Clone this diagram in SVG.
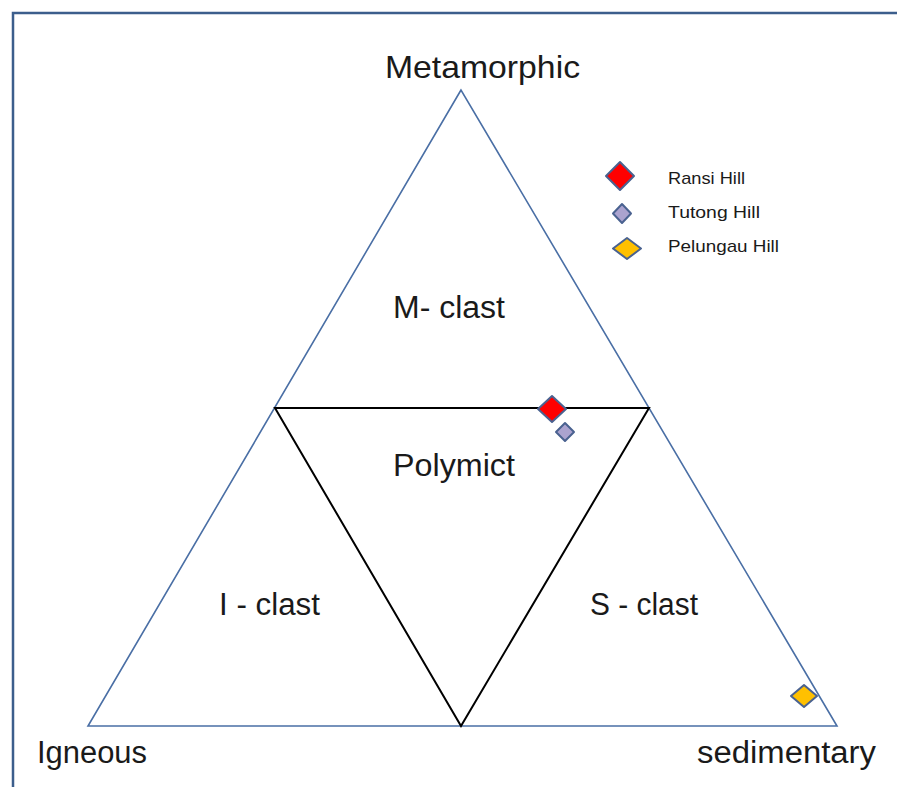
<svg xmlns="http://www.w3.org/2000/svg" width="897" height="787" viewBox="0 0 897 787">
<style>
.lbl{font-family:"Liberation Sans",Arial,sans-serif;fill:#1a1a1a}
.big{font-size:31px}
.leg{font-size:17px}
.outer{fill:none;stroke:#4A6FA5;stroke-width:1.6}
.inner{fill:none;stroke:#000;stroke-width:2}
.mk{stroke:#4A6290;stroke-width:2;stroke-linejoin:round}
</style>
<rect width="897" height="787" fill="#fff"/>
<path d="M13,787 V13 H897" fill="none" stroke="#3C5E8C" stroke-width="2.5"/>
<g id="connectors">
<polygon class="outer" points="461,90 88,726 837,726"/>
<polygon class="inner" points="275,408 649,408 461,726"/>
</g>
<g id="label-metamorphic"><text class="lbl" x="385" y="78" font-size="32" textLength="195" lengthAdjust="spacingAndGlyphs">Metamorphic</text></g>
<g id="label-igneous"><text class="lbl big" x="37" y="763" textLength="110" lengthAdjust="spacingAndGlyphs">Igneous</text></g>
<g id="label-sedimentary"><text class="lbl big" x="697" y="763" textLength="179" lengthAdjust="spacingAndGlyphs">sedimentary</text></g>
<g id="m-clast"><text class="lbl big" x="393" y="318" textLength="112" lengthAdjust="spacingAndGlyphs">M- clast</text></g>
<g id="polymict"><text class="lbl big" x="393" y="476" textLength="122" lengthAdjust="spacingAndGlyphs">Polymict</text></g>
<g id="i-clast"><text class="lbl big" x="219" y="615" textLength="101" lengthAdjust="spacingAndGlyphs">I - clast</text></g>
<g id="s-clast"><text class="lbl big" x="590" y="615" textLength="108" lengthAdjust="spacingAndGlyphs">S - clast</text></g>
<g id="point-ransi"><polygon class="mk" fill="#FF0000" points="552,396 566,409 552,422 538,409"/></g>
<g id="point-tutong"><polygon class="mk" fill="#ABA3CF" points="565,423 574,432 565,441 556,432"/></g>
<g id="point-pelungau"><polygon class="mk" fill="#FFC000" points="804,685 817,696 804,707 791,696"/></g>
<g id="legend">
<polygon class="mk" fill="#FF0000" points="620,162 634,176 620,190 606,176"/>
<polygon class="mk" fill="#ABA3CF" points="622,204 631,213.5 622,223 613,213.5"/>
<polygon class="mk" fill="#FFC000" points="627,238 641,248.5 627,259 613,248.5"/>
<text class="lbl leg" x="668" y="184" textLength="77" lengthAdjust="spacingAndGlyphs">Ransi Hill</text>
<text class="lbl leg" x="668" y="218" textLength="92" lengthAdjust="spacingAndGlyphs">Tutong Hill</text>
<text class="lbl leg" x="668" y="252" textLength="111" lengthAdjust="spacingAndGlyphs">Pelungau Hill</text>
</g>
</svg>
